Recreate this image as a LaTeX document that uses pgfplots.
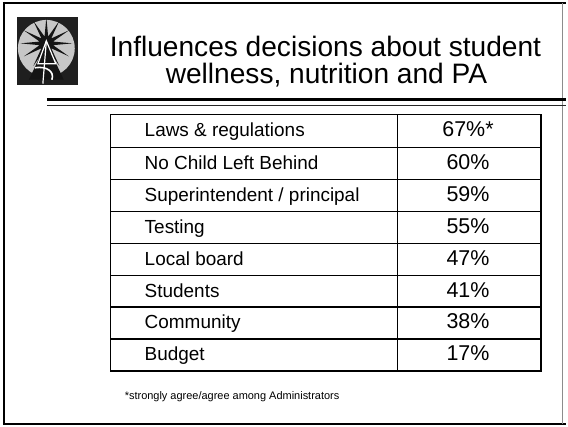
\documentclass[border=0pt]{standalone}
\usepackage{pgfplots}
\usepackage{pgfplotstable}
\pgfplotsset{compat=1.18}
\usepackage{fontspec}
\setmainfont{Liberation Sans}

\pgfplotstableread[col sep=comma]{
y,label
137,Laws \& regulations
170,No Child Left Behind
202,Superintendent / principal
234,Testing
266,Local board
298,Students
330,Community
362,Budget
}\labeltable

\pgfplotstableread[col sep=comma]{
y,pct
170,60
202,59
234,55
266,47
298,41
330,38
362,17
}\pcttable

\pgfplotstableread[col sep=comma]{
y,pct
137,67
}\firsttable

\begin{document}
\begin{tikzpicture}
\begin{axis}[
  x=1pt, y=1pt, y dir=reverse,
  xmin=0, xmax=568, ymin=0, ymax=428,
  hide axis, clip=false, scale only axis,
  /pgf/number format/assume math mode=true,
]
% background (page extent)
\fill[white] (axis cs:0,0) rectangle (axis cs:568,428);
% outer frame
\draw[line width=2.5pt] (axis cs:4,2) -- (axis cs:4,426);
\draw[line width=1.5pt] (axis cs:2.8,3) -- (axis cs:568,3);
\draw[line width=2.6pt] (axis cs:2.8,425.5) -- (axis cs:568,425.5);
\draw[line width=0.6pt, black!45] (axis cs:564,3) -- (axis cs:564,425);
% logo
\fill[black!88] (axis cs:17,17) rectangle (axis cs:78,85);
\fill[black!22] (axis cs:46.5,48.5) circle[radius=28.5pt];
\begin{scope}[shift={(axis cs:46.5,43.5)}]
\fill[black!92] (90:26pt) -- (105:7pt) -- (120:26pt) -- (135:7pt) -- (150:26pt) -- (165:7pt)
 -- (180:26pt) -- (195:7pt) -- (210:26pt) -- (225:7pt) -- (240:26pt) -- (255:7pt)
 -- (270:26pt) -- (285:7pt) -- (300:26pt) -- (315:7pt) -- (330:26pt) -- (345:7pt)
 -- (0:26pt) -- (15:7pt) -- (30:26pt) -- (45:7pt) -- (60:26pt) -- (75:7pt) -- cycle;
\end{scope}
\fill[black!92] (axis cs:46.5,43) -- (axis cs:29,80) -- (axis cs:64,80) -- cycle;
\draw[white, line width=1.2pt] (axis cs:46.5,41) -- (axis cs:38,64) -- (axis cs:56,64) -- cycle;
\draw[white, line width=1.2pt] (axis cs:46.5,41) -- (axis cs:43,84);
\draw[white, line width=1.6pt] (axis cs:35,68) .. controls (axis cs:47,66) and (axis cs:55,72) .. (axis cs:52,80);
% title
\node[font=\fontsize{28.2}{28.2}\selectfont, anchor=base] at (axis cs:326.5,56.5) {Influences decisions about student};
\node[font=\fontsize{28.2}{28.2}\selectfont, anchor=base] at (axis cs:327.5,83.5) {wellness, nutrition and PA};
% title rules
\draw[line width=3.6pt] (axis cs:47,100) -- (axis cs:568,100);
\draw[line width=1pt, black!85] (axis cs:47,105.5) -- (axis cs:568,105.5);
% table grid
\draw[line width=1.2pt] (axis cs:111,148) -- (axis cs:543,148);
\draw[line width=1.2pt] (axis cs:111,180) -- (axis cs:543,180);
\draw[line width=1.2pt] (axis cs:111,212) -- (axis cs:543,212);
\draw[line width=1.2pt] (axis cs:111,244) -- (axis cs:543,244);
\draw[line width=1.2pt] (axis cs:111,276) -- (axis cs:543,276);
\draw[line width=1.2pt] (axis cs:111,308) -- (axis cs:543,308);
\draw[line width=1.2pt] (axis cs:111,340) -- (axis cs:543,340);
\draw[line width=1.2pt] (axis cs:399,115) -- (axis cs:399,372);
\draw[line width=1.7pt] (axis cs:111,115) rectangle (axis cs:543,372);
% labels
\addplot[only marks, mark=none, nodes near coords, point meta=explicit symbolic,
  nodes near coords align={center},
  every node near coord/.append style={anchor=base west, inner sep=0pt, font=\fontsize{19}{19}\selectfont, text=black}]
  table[x expr=145, y=y, meta=label] {\labeltable};
% percentages
\addplot[only marks, mark=none, nodes near coords={\pgfmathprintnumber{\pgfplotspointmeta}\%}, point meta=explicit,
  nodes near coords align={center},
  every node near coord/.append style={anchor=base, inner sep=0pt, font=\fontsize{21.5}{21.5}\selectfont, text=black}]
  table[x expr=469.5, y=y, meta=pct] {\pcttable};
\addplot[only marks, mark=none, nodes near coords={\pgfmathprintnumber{\pgfplotspointmeta}\%*}, point meta=explicit,
  nodes near coords align={center},
  every node near coord/.append style={anchor=base, inner sep=0pt, font=\fontsize{21.5}{21.5}\selectfont, text=black}]
  table[x expr=469.5, y=y, meta=pct] {\firsttable};
% footnote
\node[font=\fontsize{11}{11}\selectfont, anchor=base west, inner sep=0pt] at (axis cs:125,401) {*strongly agree/agree among Administrators};
\end{axis}
\end{tikzpicture}
\end{document}
